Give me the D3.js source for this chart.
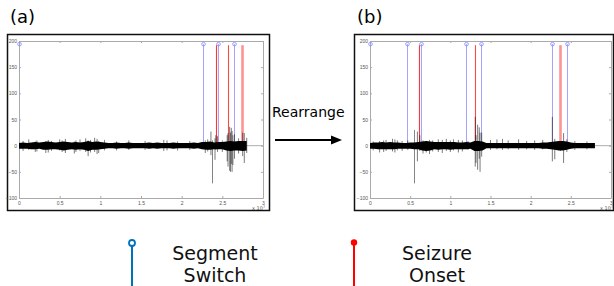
<!DOCTYPE html>
<html>
<head>
<meta charset="utf-8">
<script src="https://cdn.jsdelivr.net/npm/d3@7"></script>
<style>
  body { margin: 0; background: #fff; }
  svg { display: block; font-family: "DejaVu Sans", sans-serif; }
  .tick text { font-size: 5px; fill: #555; }
  .domain, .tick line { stroke: #aaa; }
</style>
</head>
<body>
<div class="chart"></div>
<script>
// Chart values (x in units of 1e7 samples, y in signal units)
var xTicks = [0, 0.5, 1, 1.5, 2, 2.5, 3];
var yTicks = [-100, -50, 0, 50, 100, 150, 200];
var bandStep = 0.05;   // band samples every 0.05 from 0 to 2.8
var stemTop = 194;

// panel (a): original recording
var switchA = [0, 2.26, 2.45, 2.64];
var onsetA = [2.42, 2.57, 2.74];
var bandAHi = [5, 6, 5, 6, 7, 6, 7, 8, 7, 6, 7, 8, 7, 6, 7, 6, 7, 9, 7, 8, 7, 6,
  5, 5, 6, 5, 5, 6, 5, 5, 5, 5, 6, 5, 6, 5, 5, 5, 6, 5, 5, 5, 5, 6, 5,
  7, 7, 8, 6, 7, 7, 8, 9, 8, 9, 9, 9];
var bandALo = [-6, -6, -6, -7, -7, -6, -8, -8, -7, -7, -8, -9, -8, -7, -8, -7, -8, -10, -8, -8, -7, -6,
  -5, -5, -6, -5, -5, -6, -5, -5, -5, -5, -6, -5, -6, -5, -5, -5, -6, -5, -5, -5, -5, -6, -5,
  -7, -8, -8, -7, -7, -7, -9, -10, -9, -9, -10, -9];
var spikesA = [[0.05, -10, 9], [0.12, -8, 12], [0.2, -12, 8], [0.22, -11, 10], [0.33, -14, 9], [0.36, -13, 11],
  [0.4, -10, 9], [0.5, -9, 12], [0.53, -12, 10], [0.57, -14, 13], [0.68, -15, 8], [0.7, -12, 10],
  [0.75, -10, 12], [0.82, -12, 14], [0.85, -20, 10], [0.88, -13, 11], [0.93, -12, 15], [0.96, -16, 13],
  [0.98, -14, 9], [1.05, -9, 11], [1.2, -9, 8], [1.35, -8, 10], [1.55, -8, 9], [1.78, -10, 11],
  [1.82, -9, 10], [1.95, -9, 8], [2.1, -8, 9], [2.29, -14, 10], [2.32, -11, 12], [2.36, -18, 27],
  [2.38, -72, 10], [2.41, -27, 14], [2.42, -8, 20], [2.44, -12, 18], [2.5, -12, 10], [2.56, -30, 20],
  [2.57, -40, 24], [2.59, -48, 36], [2.6, -50, 25], [2.61, -35, 34], [2.62, -50, 28], [2.63, -37, 20],
  [2.65, -25, 22], [2.7, -15, 14], [2.75, -20, 25], [2.77, -33, 24], [2.8, -14, 15]];

// panel (b): rearranged recording
var switchB = [0, 0.46, 0.64, 1.19, 1.38, 2.27, 2.455];
var onsetB = [0.61, 1.31, 2.37];
var bandBHi = [5, 6, 6, 7, 6, 7, 6, 6, 5, 5, 6, 6, 7, 8, 9, 8, 7, 7, 7, 7, 7, 7,
  6, 6, 7, 6, 9, 9, 8, 5, 5, 5, 5, 5, 5, 5, 5, 5, 5, 5, 5, 5, 5, 6, 6,
  7, 8, 9, 9, 8, 6, 5, 5, 5, 5, 5, 5];
var bandBLo = [-6, -6, -7, -7, -7, -7, -7, -6, -6, -6, -6, -7, -7, -9, -10, -9, -7, -8, -7, -7, -8, -7,
  -7, -7, -7, -6, -10, -10, -9, -5, -5, -5, -5, -5, -5, -5, -5, -5, -5, -5, -5, -5, -5, -6, -6,
  -7, -8, -9, -9, -8, -6, -5, -5, -5, -5, -5, -5];
var spikesB = [[0.04, -9, 8], [0.12, -13, 9], [0.17, -12, 10], [0.2, -10, 11], [0.28, -11, 13], [0.31, -13, 12],
  [0.34, -9, 10], [0.4, -10, 9], [0.47, -8, 10], [0.555, -72, 30], [0.59, -30, 27], [0.62, -10, 20],
  [0.66, -15, 10], [0.7, -13, 9], [0.74, -16, 11], [0.78, -11, 10], [0.85, -12, 12], [0.9, -14, 11],
  [0.95, -10, 13], [1.0, -12, 10], [1.04, -9, 12], [1.1, -13, 11], [1.15, -11, 10], [1.22, -8, 9],
  [1.31, -40, 55], [1.32, -33, 20], [1.34, -46, 40], [1.36, -25, 35], [1.37, -50, 25], [1.39, -21, 25],
  [1.5, -8, 11], [1.58, -7, 12], [1.65, -8, 13], [1.72, -7, 10], [1.85, -8, 12], [1.95, -7, 9],
  [2.05, -8, 10], [2.15, -7, 11], [2.27, -30, 55], [2.3, -26, 13], [2.37, -10, 8], [2.41, -33, 24],
  [2.45, -12, 12], [2.55, -8, 9], [2.7, -7, 8]];

var svg = d3.select(".chart").append("svg")
  .attr("width", 614)
  .attr("height", 286);

// styles for the three onset stems (last one is the wide pale one)
var onsetStyle = [
  { c: "#ff2a2a", w: 1.1, o: 0.95 },
  { c: "#ff2a2a", w: 1.1, o: 0.85 },
  { c: "#ff8080", w: 2.6, o: 0.85 }
];

function drawPanel(cfg) {
  // outer frame
  svg.append("rect")
    .attr("x", cfg.box[0]).attr("y", 34.5)
    .attr("width", cfg.box[1]).attr("height", 176)
    .attr("fill", "none").attr("stroke", "#111").attr("stroke-width", 1.5);

  svg.append("text")
    .attr("x", cfg.box[0] + 2.5).attr("y", 23)
    .attr("font-size", "18px")
    .text(cfg.title);

  var x = d3.scaleLinear().domain([0, 3]).range([cfg.left, cfg.right]);
  var y = d3.scaleLinear().domain([-100, 200]).range([198, 41]);
  var sx = d => Math.round(x(d)) + 0.5;   // crisp 1px stems
  var g = svg.append("g");

  // exponent label
  var ex = g.append("text")
    .attr("x", cfg.right - 11).attr("y", 209.5)
    .attr("font-size", "5px").attr("fill", "#555");
  ex.append("tspan").text("x 10");
  ex.append("tspan").attr("dy", -2).attr("font-size", "3.5px").text("7");

  // zero line
  g.append("line")
    .attr("x1", x(0)).attr("x2", x(3))
    .attr("y1", y(0)).attr("y2", y(0))
    .attr("stroke", "#999").attr("stroke-width", 0.8);

  // stems
  g.selectAll(".sw").data(cfg.switches).enter().append("line")
    .attr("x1", sx).attr("x2", sx)
    .attr("y1", y(0)).attr("y2", y(stemTop))
    .attr("stroke", "#a4a4ff").attr("stroke-width", 1);
  g.selectAll(".on").data(cfg.onsets).enter().append("line")
    .attr("x1", sx).attr("x2", sx)
    .attr("y1", y(0)).attr("y2", y(stemTop - 2))
    .attr("stroke", (d, i) => onsetStyle[i].c)
    .attr("stroke-width", (d, i) => onsetStyle[i].w)
    .attr("opacity", (d, i) => onsetStyle[i].o);

  // axes drawn over the stems, MATLAB style inward ticks on all four sides
  var ax = g.append("g");
  ax.append("g").attr("transform", "translate(0,198)")
    .call(d3.axisBottom(x).tickValues(xTicks).tickSizeInner(-2).tickSizeOuter(0).tickPadding(3)
      .tickFormat(d3.format("")));
  ax.append("g").attr("transform", "translate(0,41)")
    .call(d3.axisTop(x).tickValues(xTicks).tickSizeInner(-2).tickSizeOuter(0).tickFormat(""));
  ax.append("g").attr("transform", `translate(${Math.round(cfg.left)},0)`)
    .call(d3.axisLeft(y).tickValues(yTicks).tickSizeInner(-2).tickSizeOuter(0).tickPadding(2));
  ax.append("g").attr("transform", `translate(${cfg.right},0)`)
    .call(d3.axisRight(y).tickValues(yTicks).tickSizeInner(-2).tickSizeOuter(0).tickFormat(""));

  g.selectAll(".swc").data(cfg.switches).enter().append("circle")
    .attr("cx", sx).attr("cy", y(stemTop)).attr("r", 1.8)
    .attr("fill", "none").attr("stroke", "#9090ff").attr("stroke-width", 0.9);

  // signal band
  var band = d3.area()
    .x((d, i) => x(i * bandStep))
    .y0((d, i) => y(cfg.lo[i]))
    .y1(d => y(d));
  g.append("path").datum(cfg.hi)
    .attr("d", band)
    .attr("fill", "#000");

  // spikes
  g.selectAll(".sp").data(cfg.spikes).enter().append("line")
    .attr("x1", d => x(d[0])).attr("x2", d => x(d[0]))
    .attr("y1", d => y(d[1])).attr("y2", d => y(d[2]))
    .attr("stroke", "#000").attr("stroke-width", 0.8).attr("opacity", 0.65);
}

drawPanel({ title: "(a)", box: [7.5, 262], left: 19, right: 263,
  switches: switchA, onsets: onsetA, hi: bandAHi, lo: bandALo, spikes: spikesA });
drawPanel({ title: "(b)", box: [354.5, 259], left: 370, right: 611,
  switches: switchB, onsets: onsetB, hi: bandBHi, lo: bandBLo, spikes: spikesB });

// arrow between panels
svg.append("text")
  .attr("x", 272).attr("y", 117)
  .attr("font-size", "14px")
  .text("Rearrange");
svg.append("line")
  .attr("x1", 275).attr("x2", 333).attr("y1", 140).attr("y2", 140)
  .attr("stroke", "#000").attr("stroke-width", 2);
svg.append("path")
  .attr("d", "M331,135.5 L342,140 L331,144.5 Z")
  .attr("fill", "#000");

// legend
svg.append("line").attr("x1", 132).attr("x2", 132).attr("y1", 246).attr("y2", 286)
  .attr("stroke", "#0072BD").attr("stroke-width", 2);
svg.append("circle").attr("cx", 132).attr("cy", 243).attr("r", 3)
  .attr("fill", "#fff").attr("stroke", "#0072BD").attr("stroke-width", 1.8);
svg.append("line").attr("x1", 354).attr("x2", 354).attr("y1", 243).attr("y2", 286)
  .attr("stroke", "#ff0000").attr("stroke-width", 2);
svg.append("circle").attr("cx", 354).attr("cy", 242.5).attr("r", 3.2)
  .attr("fill", "#ff0000");

var legendText = [["Segment", "Switch", 215], ["Seizure", "Onset", 437]];
legendText.forEach(function (t) {
  var tx = svg.append("text").attr("text-anchor", "middle").attr("font-size", "19px").attr("fill", "#111");
  tx.append("tspan").attr("x", t[2]).attr("y", 260).text(t[0]);
  tx.append("tspan").attr("x", t[2]).attr("y", 282).text(t[1]);
});
</script>
</body>
</html>
